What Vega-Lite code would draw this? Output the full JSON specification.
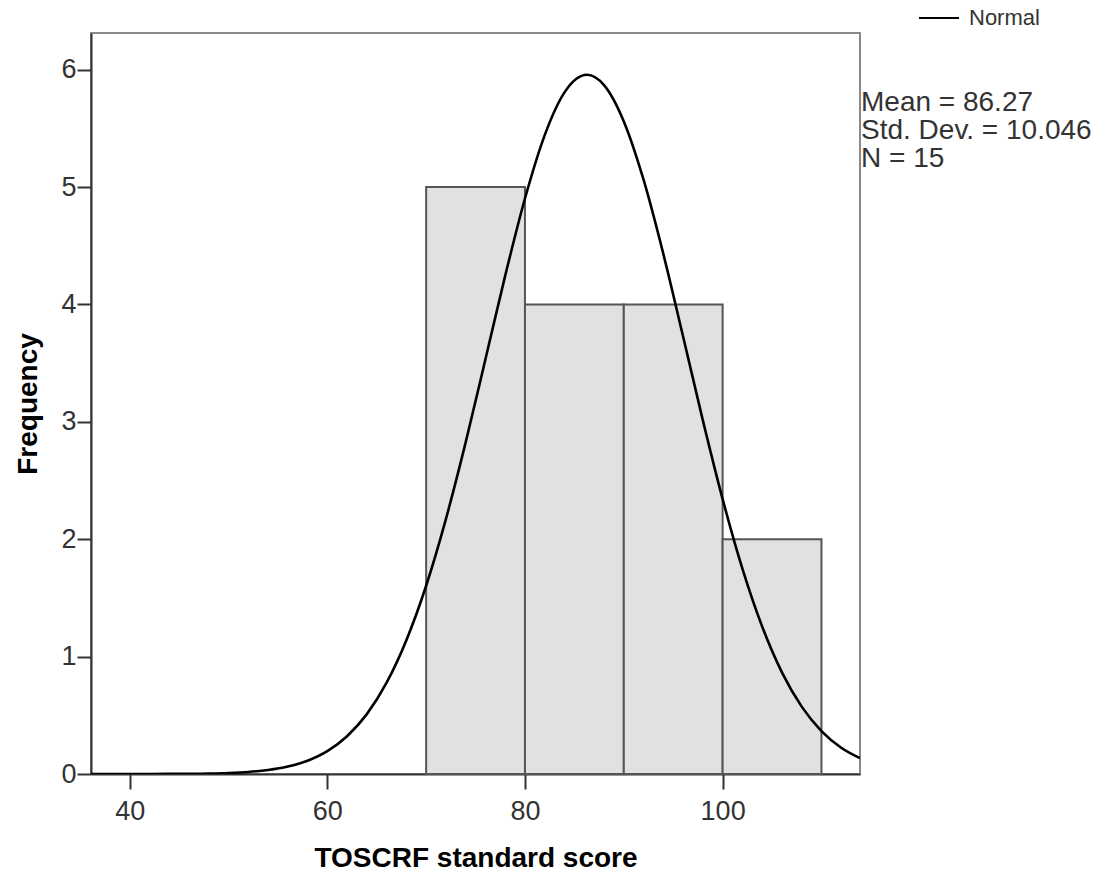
{
  "$schema": "https://vega.github.io/schema/vega-lite/v6.json",
  "autosize": "none",
  "padding": {"left": 91, "top": 33, "right": 251, "bottom": 103},
  "width": 769,
  "height": 741,
  "background": "white",
  "config": {
    "font": "Liberation Sans",
    "view": {"stroke": "#8a8a8a", "strokeWidth": 2},
    "axis": {"grid": false, "labelFont": "Liberation Sans", "titleFont": "Liberation Sans", "labelColor": "#333333", "titleColor": "#000000", "domainColor": "#333333", "tickColor": "#333333", "domainWidth": 2, "tickWidth": 2, "labelFontSize": 27, "titleFontSize": 28, "titleFontWeight": "bold"}
  },
  "datasets": {
    "bins": [
      {"bin_start": 70, "bin_end": 80, "count": 5},
      {"bin_start": 80, "bin_end": 90, "count": 4},
      {"bin_start": 90, "bin_end": 100, "count": 4},
      {"bin_start": 100, "bin_end": 110, "count": 2}
    ],
    "curve": [
      {"score": 36.1, "freq": 0.00002, "series": "Normal"},
      {"score": 40, "freq": 0.00015, "series": "Normal"},
      {"score": 44, "freq": 0.00085, "series": "Normal"},
      {"score": 48, "freq": 0.0042, "series": "Normal"},
      {"score": 50, "freq": 0.0088, "series": "Normal"},
      {"score": 52, "freq": 0.0177, "series": "Normal"},
      {"score": 54, "freq": 0.0342, "series": "Normal"},
      {"score": 56, "freq": 0.0636, "series": "Normal"},
      {"score": 58, "freq": 0.1135, "series": "Normal"},
      {"score": 60, "freq": 0.195, "series": "Normal"},
      {"score": 62, "freq": 0.322, "series": "Normal"},
      {"score": 64, "freq": 0.51, "series": "Normal"},
      {"score": 66, "freq": 0.778, "series": "Normal"},
      {"score": 68, "freq": 1.14, "series": "Normal"},
      {"score": 70, "freq": 1.604, "series": "Normal"},
      {"score": 72, "freq": 2.172, "series": "Normal"},
      {"score": 74, "freq": 2.825, "series": "Normal"},
      {"score": 76, "freq": 3.533, "series": "Normal"},
      {"score": 78, "freq": 4.246, "series": "Normal"},
      {"score": 80, "freq": 4.903, "series": "Normal"},
      {"score": 82, "freq": 5.443, "series": "Normal"},
      {"score": 84, "freq": 5.807, "series": "Normal"},
      {"score": 86.27, "freq": 5.957, "series": "Normal"},
      {"score": 88, "freq": 5.869, "series": "Normal"},
      {"score": 90, "freq": 5.56, "series": "Normal"},
      {"score": 92, "freq": 5.063, "series": "Normal"},
      {"score": 94, "freq": 4.431, "series": "Normal"},
      {"score": 96, "freq": 3.727, "series": "Normal"},
      {"score": 98, "freq": 3.013, "series": "Normal"},
      {"score": 100, "freq": 2.342, "series": "Normal"},
      {"score": 102, "freq": 1.749, "series": "Normal"},
      {"score": 104, "freq": 1.256, "series": "Normal"},
      {"score": 106, "freq": 0.866, "series": "Normal"},
      {"score": 108, "freq": 0.574, "series": "Normal"},
      {"score": 110, "freq": 0.366, "series": "Normal"},
      {"score": 112, "freq": 0.224, "series": "Normal"},
      {"score": 113.9, "freq": 0.135, "series": "Normal"}
    ],
    "stats": [
      {"label": "Mean = 86.27\nStd. Dev. = 10.046\nN = 15"}
    ]
  },
  "layer": [
    {
      "data": {"name": "bins"},
      "mark": {"type": "rect", "fill": "#e1e1e1", "stroke": "#555555", "strokeWidth": 2},
      "encoding": {
        "x": {"field": "bin_start", "type": "quantitative", "scale": {"domain": [36.09, 113.9], "nice": false, "zero": false},
          "axis": {"values": [40, 60, 80, 100], "format": "d", "tickSize": 15, "labelPadding": 9, "title": "TOSCRF standard score", "titlePadding": 20}},
        "x2": {"field": "bin_end"},
        "y": {"field": "count", "type": "quantitative", "scale": {"domain": [0, 6.313], "nice": false},
          "axis": {"values": [0, 1, 2, 3, 4, 5, 6], "format": "d", "tickSize": 14, "labelPadding": 1, "title": "Frequency", "titlePadding": 18}},
        "y2": {"datum": 0}
      }
    },
    {
      "data": {"name": "curve"},
      "mark": {"type": "line", "interpolate": "monotone", "strokeWidth": 2.6, "clip": true},
      "encoding": {
        "x": {"field": "score", "type": "quantitative"},
        "y": {"field": "freq", "type": "quantitative"},
        "stroke": {"field": "series", "type": "nominal", "scale": {"range": ["#000000"]},
          "legend": {"title": null, "orient": "none", "legendX": 827, "legendY": -36, "symbolType": "stroke", "symbolSize": 1600, "symbolStrokeWidth": 2, "symbolStrokeColor": "#333333", "labelFontSize": 22, "labelFont": "Liberation Sans", "labelColor": "#333333", "labelOffset": 9, "padding": 0}}
      }
    },
    {
      "data": {"name": "stats"},
      "mark": {"type": "text", "align": "left", "baseline": "top", "lineBreak": "\n", "fontSize": 28, "lineHeight": 28, "font": "Liberation Sans", "color": "#333333", "dx": 1},
      "encoding": {
        "x": {"datum": 113.9},
        "y": {"datum": 5.84},
        "text": {"field": "label"}
      }
    }
  ]
}
